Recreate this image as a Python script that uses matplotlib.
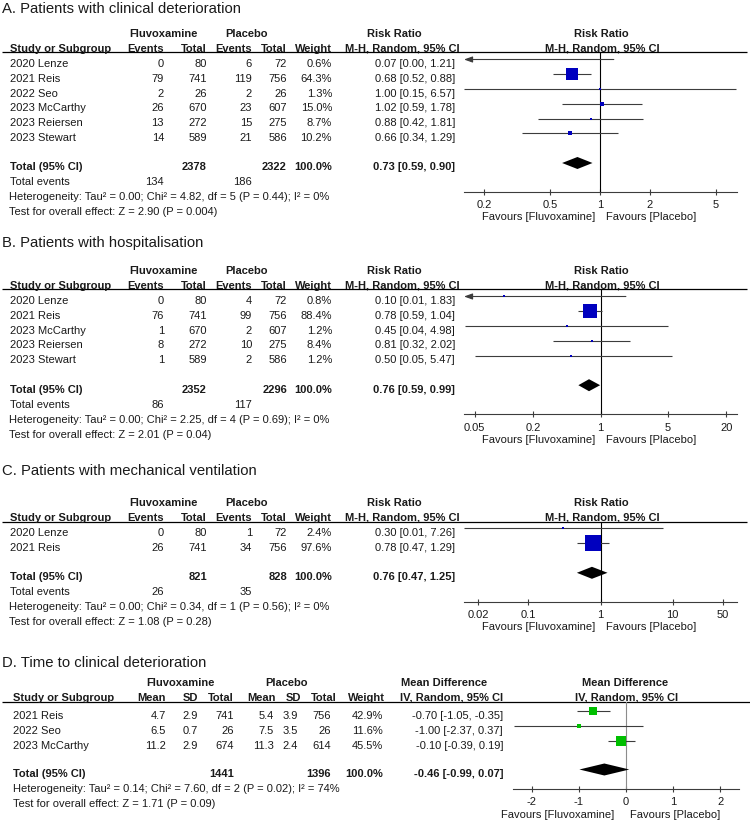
import matplotlib
matplotlib.use("Agg")
import matplotlib.pyplot as plt
from matplotlib.ticker import FixedLocator, FixedFormatter, NullLocator

plt.rcParams["font.family"] = ["Liberation Sans", "DejaVu Sans"]

W, H = 750, 822
FS = 8
TXT = "#1a1a1a"
LINE = "#3c3c3c"
BLUE = "#0000bf"
GREEN = "#00bf00"

# ---- A. clinical deterioration ----
a_studies = ["2020 Lenze", "2021 Reis", "2022 Seo", "2023 McCarthy", "2023 Reiersen", "2023 Stewart"]
a_ev_f = [0, 79, 2, 26, 13, 14]
a_tot_f = [80, 741, 26, 670, 272, 589]
a_ev_p = [6, 119, 2, 23, 15, 21]
a_tot_p = [72, 756, 26, 607, 275, 586]
a_weight = [0.6, 64.3, 1.3, 15.0, 8.7, 10.2]
a_rr = [0.07, 0.68, 1.00, 1.02, 0.88, 0.66]
a_lo = [0.00, 0.52, 0.15, 0.59, 0.42, 0.34]
a_hi = [1.21, 0.88, 6.57, 1.78, 1.81, 1.29]
a_total = [2378, 2322, 0.73, 0.59, 0.90]
a_events = [134, 186]
a_het = "Heterogeneity: Tau² = 0.00; Chi² = 4.82, df = 5 (P = 0.44); I² = 0%"
a_test = "Test for overall effect: Z = 2.90 (P = 0.004)"
a_ticks = [0.2, 0.5, 1, 2, 5]
a_ticklabels = ["0.2", "0.5", "1", "2", "5"]

# ---- B. hospitalisation ----
b_studies = ["2020 Lenze", "2021 Reis", "2023 McCarthy", "2023 Reiersen", "2023 Stewart"]
b_ev_f = [0, 76, 1, 8, 1]
b_tot_f = [80, 741, 670, 272, 589]
b_ev_p = [4, 99, 2, 10, 2]
b_tot_p = [72, 756, 607, 275, 586]
b_weight = [0.8, 88.4, 1.2, 8.4, 1.2]
b_rr = [0.10, 0.78, 0.45, 0.81, 0.50]
b_lo = [0.01, 0.59, 0.04, 0.32, 0.05]
b_hi = [1.83, 1.04, 4.98, 2.02, 5.47]
b_total = [2352, 2296, 0.76, 0.59, 0.99]
b_events = [86, 117]
b_het = "Heterogeneity: Tau² = 0.00; Chi² = 2.25, df = 4 (P = 0.69); I² = 0%"
b_test = "Test for overall effect: Z = 2.01 (P = 0.04)"
b_ticks = [0.05, 0.2, 1, 5, 20]
b_ticklabels = ["0.05", "0.2", "1", "5", "20"]

# ---- C. mechanical ventilation ----
c_studies = ["2020 Lenze", "2021 Reis"]
c_ev_f = [0, 26]
c_tot_f = [80, 741]
c_ev_p = [1, 34]
c_tot_p = [72, 756]
c_weight = [2.4, 97.6]
c_rr = [0.30, 0.78]
c_lo = [0.01, 0.47]
c_hi = [7.26, 1.29]
c_total = [821, 828, 0.76, 0.47, 1.25]
c_events = [26, 35]
c_het = "Heterogeneity: Tau² = 0.00; Chi² = 0.34, df = 1 (P = 0.56); I² = 0%"
c_test = "Test for overall effect: Z = 1.08 (P = 0.28)"
c_ticks = [0.02, 0.1, 1, 10, 50]
c_ticklabels = ["0.02", "0.1", "1", "10", "50"]

# ---- D. time to clinical deterioration ----
d_studies = ["2021 Reis", "2022 Seo", "2023 McCarthy"]
d_mean_f = [4.7, 6.5, 11.2]
d_sd_f = [2.9, 0.7, 2.9]
d_n_f = [741, 26, 674]
d_mean_p = [5.4, 7.5, 11.3]
d_sd_p = [3.9, 3.5, 2.4]
d_n_p = [756, 26, 614]
d_weight = [42.9, 11.6, 45.5]
d_md = [-0.70, -1.00, -0.10]
d_lo = [-1.05, -2.37, -0.39]
d_hi = [-0.35, 0.37, 0.19]
d_total = [1441, 1396, -0.46, -0.99, 0.07]
d_het = "Heterogeneity: Tau² = 0.14; Chi² = 7.60, df = 2 (P = 0.02); I² = 74%"
d_test = "Test for overall effect: Z = 1.71 (P = 0.09)"
d_ticks = [-2, -1, 0, 1, 2]
d_ticklabels = ["-2", "-1", "0", "1", "2"]


fig = plt.figure(figsize=(W / 100, H / 100), dpi=100)
bg = fig.add_axes([0, 0, 1, 1])
bg.set_xlim(0, W)
bg.set_ylim(H, 0)
bg.axis("off")


def put(x, y, s, ha="left", bold=False, size=FS):
    # y is the visual centre of the text; convert to a baseline
    em = size * 100 / 72
    bg.text(x, y + 0.358 * em, s, ha=ha, va="baseline", fontsize=size,
            fontweight="bold" if bold else "normal", color=TXT)


def hline(y, x0=2, x1=747):
    bg.plot([x0, x1], [y, y], color="#000000", lw=0.9, solid_capstyle="butt")


def square_side(w):
    # marker side in pixels grows with the study weight
    return max(2.4, 1.5 + 0.15 * w)


def forest_axes(x0, x1, ytop, ybot, xlim, ticks, labels, log):
    ax = fig.add_axes([x0 / W, 1 - ybot / H, (x1 - x0) / W, (ybot - ytop) / H])
    if log:
        ax.set_xscale("log")
    ax.set_xlim(*xlim)
    ax.set_ylim(ybot, ytop)
    ax.patch.set_alpha(0)
    for s in ("top", "left", "right"):
        ax.spines[s].set_visible(False)
    ax.spines["bottom"].set_color(LINE)
    ax.spines["bottom"].set_linewidth(0.8)
    ax.yaxis.set_visible(False)
    ax.xaxis.set_major_locator(FixedLocator(ticks))
    ax.xaxis.set_major_formatter(FixedFormatter(labels))
    ax.xaxis.set_minor_locator(NullLocator())
    ax.tick_params(axis="x", direction="inout", length=5, width=0.8, color=LINE,
                   labelsize=FS, pad=3.5, labelcolor=TXT)
    return ax


def rr_panel(title, title_y, h1_y, studies, ev_f, tot_f, ev_p, tot_p, weight,
             est, lo, hi, total, events, het, test, ticks, ticklabels, xlim):
    h2_y = h1_y + 15
    line_y = h2_y + 4.5
    rows = [h2_y + 15 + i * 14.8 for i in range(len(studies))]
    total_y = rows[-1] + 29.5
    axis_y = total_y + 25.5

    put(2, title_y, title, size=10.7)

    # column headers
    put(163, h1_y, "Fluvoxamine", ha="center", bold=True)
    put(246, h1_y, "Placebo", ha="center", bold=True)
    put(394, h1_y, "Risk Ratio", ha="center", bold=True)
    put(601, h1_y, "Risk Ratio", ha="center", bold=True)
    put(10, h2_y, "Study or Subgroup", bold=True)
    for x, s in zip([164, 207, 252, 287, 332], ["Events", "Total", "Events", "Total", "Weight"]):
        put(x, h2_y, s, ha="right", bold=True)
    put(460, h2_y, "M-H, Random, 95% CI", ha="right", bold=True)
    put(602, h2_y, "M-H, Random, 95% CI", ha="center", bold=True)
    hline(line_y)

    # study rows
    for i, y in enumerate(rows):
        put(10, y, studies[i])
        put(164, y, str(ev_f[i]), ha="right")
        put(207, y, str(tot_f[i]), ha="right")
        put(252, y, str(ev_p[i]), ha="right")
        put(287, y, str(tot_p[i]), ha="right")
        put(332, y, "%.1f%%" % weight[i], ha="right")
        put(455, y, "%.2f [%.2f, %.2f]" % (est[i], lo[i], hi[i]), ha="right")

    put(10, total_y, "Total (95% CI)", bold=True)
    put(207, total_y, str(total[0]), ha="right", bold=True)
    put(287, total_y, str(total[1]), ha="right", bold=True)
    put(332, total_y, "100.0%", ha="right", bold=True)
    put(455, total_y, "%.2f [%.2f, %.2f]" % tuple(total[2:]), ha="right", bold=True)
    put(10, total_y + 15, "Total events")
    put(164, total_y + 15, str(events[0]), ha="right")
    put(252, total_y + 15, str(events[1]), ha="right")
    put(9, total_y + 30, het)
    put(9, total_y + 45, test)

    # forest plot
    ax = forest_axes(464, 737, line_y, axis_y, xlim, ticks, ticklabels, True)
    ax.axvline(1, color="#000000", lw=0.8)
    for i, y in enumerate(rows):
        ym = y - 3.5
        if lo[i] < xlim[0] * 0.5:
            ax.annotate("", xy=(xlim[0], ym), xytext=(hi[i], ym),
                        arrowprops=dict(arrowstyle="-|>,head_length=0.5,head_width=0.18",
                                        color=LINE, lw=0.8, shrinkA=0, shrinkB=0,
                                        mutation_scale=10))
        else:
            ax.hlines(ym, max(lo[i], xlim[0]), min(hi[i], xlim[1]), color=LINE, lw=0.8)
        ax.plot(est[i], ym, marker="s", ms=square_side(weight[i]) * 0.72, color=BLUE,
                mew=0, ls="none", zorder=3)
    ym = total_y - 3.5
    ax.fill([total[3], total[2], total[4], total[2]], [ym, ym - 6, ym, ym + 6],
            color="#000000", lw=0, zorder=3)
    put(595, axis_y + 24.5, "Favours [Fluvoxamine]", ha="right")
    put(606, axis_y + 24.5, "Favours [Placebo]")


rr_panel("A. Patients with clinical deterioration", 8, 33, a_studies, a_ev_f, a_tot_f,
         a_ev_p, a_tot_p, a_weight, a_rr, a_lo, a_hi, a_total, a_events, a_het, a_test,
         a_ticks, a_ticklabels, (0.151, 6.7))
rr_panel("B. Patients with hospitalisation", 242, 270, b_studies, b_ev_f, b_tot_f,
         b_ev_p, b_tot_p, b_weight, b_rr, b_lo, b_hi, b_total, b_events, b_het, b_test,
         b_ticks, b_ticklabels, (0.0387, 25.8))
rr_panel("C. Patients with mechanical ventilation", 470, 502, c_studies, c_ev_f, c_tot_f,
         c_ev_p, c_tot_p, c_weight, c_rr, c_lo, c_hi, c_total, c_events, c_het, c_test,
         c_ticks, c_ticklabels, (0.0128, 78))

# ---- panel D (mean difference) ----
title_y, h1_y, h2_y = 662, 682, 697
line_y = h2_y + 4.5
rows = [715 + i * 15 for i in range(len(d_studies))]
total_y = rows[-1] + 28
axis_y = total_y + 16

put(2, title_y, "D. Time to clinical deterioration", size=10.7)
put(180, h1_y, "Fluvoxamine", ha="center", bold=True)
put(287, h1_y, "Placebo", ha="center", bold=True)
put(444, h1_y, "Mean Difference", ha="center", bold=True)
put(625, h1_y, "Mean Difference", ha="center", bold=True)
put(13, h2_y, "Study or Subgroup", bold=True)
for x, s in zip([166, 198, 234, 276, 301, 337, 385],
                ["Mean", "SD", "Total", "Mean", "SD", "Total", "Weight"]):
    put(x, h2_y, s, ha="right", bold=True)
put(503, h2_y, "IV, Random, 95% CI", ha="right", bold=True)
put(627, h2_y, "IV, Random, 95% CI", ha="center", bold=True)
hline(line_y, 2, 750)

for i, y in enumerate(rows):
    put(13, y, d_studies[i])
    put(166, y, "%.1f" % d_mean_f[i], ha="right")
    put(198, y, "%.1f" % d_sd_f[i], ha="right")
    put(234, y, str(d_n_f[i]), ha="right")
    put(274, y, "%.1f" % d_mean_p[i], ha="right")
    put(298, y, "%.1f" % d_sd_p[i], ha="right")
    put(331, y, str(d_n_p[i]), ha="right")
    put(383, y, "%.1f%%" % d_weight[i], ha="right")
    put(503, y, "%.2f [%.2f, %.2f]" % (d_md[i], d_lo[i], d_hi[i]), ha="right")

put(13, total_y, "Total (95% CI)", bold=True)
put(234, total_y, str(d_total[0]), ha="right", bold=True)
put(331, total_y, str(d_total[1]), ha="right", bold=True)
put(383, total_y, "100.0%", ha="right", bold=True)
put(503, total_y, "%.2f [%.2f, %.2f]" % tuple(d_total[2:]), ha="right", bold=True)
put(13, total_y + 15, d_het)
put(13, total_y + 30, d_test)

ax = forest_axes(513, 739, line_y, axis_y, (-2.4, 2.4), d_ticks, d_ticklabels, False)
ax.axvline(0, color="#8c8c8c", lw=0.8)
for i, y in enumerate(rows):
    ym = y - 3.5
    ax.hlines(ym, d_lo[i], d_hi[i], color=LINE, lw=0.8)
    ax.plot(d_md[i], ym, marker="s", ms=square_side(d_weight[i]) * 1.1 * 0.72,
            color=GREEN, mew=0, ls="none", zorder=3)
ym = total_y - 3.5
ax.fill([d_total[3], d_total[2], d_total[4], d_total[2]], [ym, ym - 6, ym, ym + 6],
        color="#000000", lw=0, zorder=3)
put(614, axis_y + 25, "Favours [Fluvoxamine]", ha="right")
put(630, axis_y + 25, "Favours [Placebo]")

fig.savefig("out.png", dpi=100)
